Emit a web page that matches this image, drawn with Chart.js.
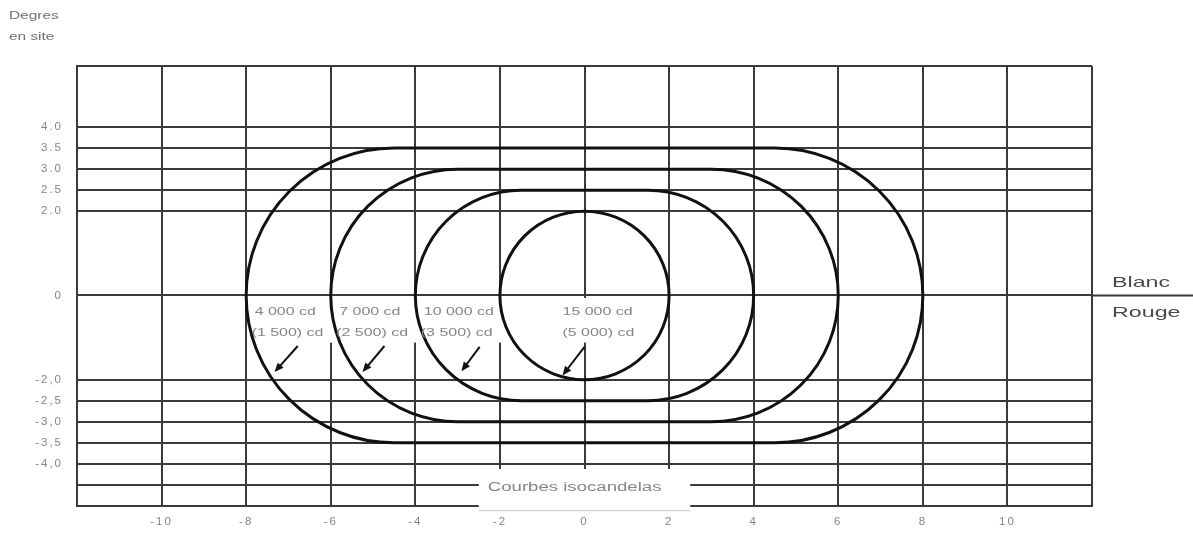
<!DOCTYPE html>
<html>
<head>
<meta charset="utf-8">
<script src="https://cdn.jsdelivr.net/npm/chart.js@4.4.0/dist/chart.umd.min.js"></script>
<style>
html,body{margin:0;padding:0;background:#fff;}
#wrap{width:1193px;height:539px;position:relative;}
</style>
</head>
<body>
<div id="wrap"><canvas id="c"></canvas></div>
<script>
// ---------- data ----------
const xTickValues = [-10, -8, -6, -4, -2, 0, 2, 4, 6, 8, 10];
const xTickLabels = ['-10', '-8', '-6', '-4', '-2', '0', '2', '4', '6', '8', '10'];
const yTickValues = [4, 3.5, 3, 2.5, 2, 0, -2, -2.5, -3, -3.5, -4];
const yTickLabels = ['4.0', '3.5', '3.0', '2.5', '2.0', '0', '-2,0', '-2,5', '-3,0', '-3,5', '-4,0'];
const yExtraGrid = [-4.5];
const yAxisTitle = ['Degres', 'en site'];
const sideLabels = ['Blanc', 'Rouge'];
const caption = 'Courbes isocandelas';

const curveWhite = ['4 000 cd', '7 000 cd', '10 000 cd', '15 000 cd'];
const curveRed = ['(1 500) cd', '(2 500) cd', '(3 500) cd', '(5 000) cd'];
const curveHalfWidth = [8, 6, 4, 2];
const curveHalfHeight = [3.5, 3, 2.5, 2];
const arrowTipX = [-7.33, -5.25, -2.91, -0.52];
const arrowTipY = [-1.82, -1.82, -1.8, -1.9];
const arrowTailX = [-6.78, -4.73, -2.48, 0];
const arrowTailY = [-1.2, -1.2, -1.22, -1.22];
const labelLeftX = [-7.8, -5.8, -3.8, -0.52];

// ---------- styling ----------
const GRID = '#3a3a3a';
const TXT = '#858585';

function sText(ctx, str, px, py, sx, align) {
  ctx.save();
  ctx.translate(px, py);
  ctx.scale(sx, 1);
  ctx.textAlign = align || 'left';
  ctx.textBaseline = 'middle';
  ctx.fillText(str, 0, 0);
  ctx.restore();
}

const overlay = {
  id: 'overlay',
  beforeDraw(chart) {
    chart.ctx.letterSpacing = '2px';
  },
  beforeDatasetsDraw(chart) {
    const ctx = chart.ctx;
    const a = chart.chartArea;
    const xs = chart.scales.x, ys = chart.scales.y;
    const X = v => xs.getPixelForValue(v);
    const Y = v => ys.getPixelForValue(v);
    ctx.save();
    ctx.letterSpacing = '0px';

    // y = 0 line extended to right edge
    ctx.strokeStyle = GRID; ctx.lineWidth = 2;
    ctx.beginPath(); ctx.moveTo(a.right, Y(0)); ctx.lineTo(chart.width, Y(0)); ctx.stroke();

    // white boxes behind curve labels
    ctx.fillStyle = '#fff';
    labelLeftX.forEach((lx, i) => {
      const x0 = X(lx - 0.1), x1 = X(lx + (i === 3 ? 1.7 : 2.0));
      ctx.fillRect(x0, Y(-0.06), x1 - x0, Y(-1.12) - Y(-0.06));
    });

    // caption box
    const bx0 = X(-2.5), bx1 = X(2.5), by0 = Y(-4.12), by1 = Y(-5.1);
    ctx.fillRect(bx0, by0, bx1 - bx0, by1 - by0);
    ctx.strokeStyle = '#c8c8c8'; ctx.lineWidth = 1;
    ctx.beginPath(); ctx.moveTo(bx0, by1 + 0.5); ctx.lineTo(bx1, by1 + 0.5); ctx.stroke();

    // isocandela curves (stadium shapes)
    ctx.strokeStyle = '#111'; ctx.lineWidth = 3;
    curveHalfWidth.forEach((hw, i) => {
      const r = curveHalfHeight[i];
      const c = hw - r;
      const rx = X(r) - X(0), ry = Y(0) - Y(r);
      ctx.beginPath();
      ctx.ellipse(X(c), Y(0), rx, ry, 0, -Math.PI / 2, Math.PI / 2);
      ctx.ellipse(X(-c), Y(0), rx, ry, 0, Math.PI / 2, Math.PI * 1.5);
      ctx.closePath();
      ctx.stroke();
    });

    // curve labels
    ctx.fillStyle = TXT;
    ctx.font = '11px "Liberation Sans", Arial, sans-serif';
    curveWhite.forEach((t, i) => {
      sText(ctx, t, X(labelLeftX[i]), Y(-0.4), 1.45, 'left');
      sText(ctx, curveRed[i], X(labelLeftX[i]) - (i === 3 ? 0 : 3), Y(-0.9), 1.45, 'left');
    });

    // arrows
    ctx.strokeStyle = '#111'; ctx.fillStyle = '#111'; ctx.lineWidth = 2;
    arrowTipX.forEach((tx, i) => {
      const x1 = X(tx), y1 = Y(arrowTipY[i]);
      const x0 = X(arrowTailX[i]), y0 = Y(arrowTailY[i]);
      const ang = Math.atan2(y1 - y0, x1 - x0);
      ctx.beginPath(); ctx.moveTo(x0, y0); ctx.lineTo(x1 - 5 * Math.cos(ang), y1 - 5 * Math.sin(ang)); ctx.stroke();
      ctx.beginPath();
      ctx.moveTo(x1, y1);
      ctx.lineTo(x1 - 10 * Math.cos(ang - 0.4), y1 - 10 * Math.sin(ang - 0.4));
      ctx.lineTo(x1 - 10 * Math.cos(ang + 0.4), y1 - 10 * Math.sin(ang + 0.4));
      ctx.closePath(); ctx.fill();
    });

    // caption text
    ctx.fillStyle = TXT;
    ctx.font = '12px "Liberation Sans", Arial, sans-serif';
    sText(ctx, caption, bx0 + 9, Y(-4.57), 1.55, 'left');

    // Blanc / Rouge
    ctx.fillStyle = '#4a4a4a';
    ctx.font = '15px "Liberation Sans", Arial, sans-serif';
    sText(ctx, sideLabels[0], a.right + 20, Y(0) - 13, 1.55, 'left');
    sText(ctx, sideLabels[1], a.right + 20, Y(0) + 17, 1.55, 'left');

    // axis title top-left
    ctx.fillStyle = '#707070';
    ctx.font = '11px "Liberation Sans", Arial, sans-serif';
    sText(ctx, yAxisTitle[0], 9, 16, 1.4, 'left');
    sText(ctx, yAxisTitle[1], 9, 37, 1.4, 'left');

    ctx.restore();
  }
};

new Chart(document.getElementById('c'), {
  type: 'scatter',
  data: { datasets: [] },
  options: {
    responsive: true,
    maintainAspectRatio: false,
    animation: false,
    devicePixelRatio: 1,
    layout: { padding: { top: 66, right: 101, left: 0, bottom: 0 } },
    plugins: { legend: { display: false }, tooltip: { enabled: false } },
    scales: {
      x: {
        type: 'linear', min: -12, max: 12,
        afterBuildTicks: s => { s.ticks = [s.min, ...xTickValues, s.max].map(v => ({ value: v })); },
        afterFit: s => { s.height = 33; },
        grid: { color: GRID, lineWidth: 2, drawTicks: false },
        border: { display: true, color: GRID, width: 2 },
        ticks: {
          padding: 9, color: TXT, maxRotation: 0, autoSkip: false,
          font: { family: '"Liberation Sans", Arial, sans-serif', size: 11.5 },
          callback: v => { const i = xTickValues.indexOf(v); return i < 0 ? '' : xTickLabels[i]; }
        }
      },
      y: {
        type: 'linear', min: -5, max: 5.45,
        afterBuildTicks: s => {
          const vals = [s.min, ...yExtraGrid, ...yTickValues, s.max].sort((p, q) => p - q);
          s.ticks = vals.map(v => ({ value: v }));
        },
        afterFit: s => { s.width = 77; },
        grid: { color: GRID, lineWidth: 2, drawTicks: false },
        border: { display: true, color: GRID, width: 2 },
        ticks: {
          padding: 14, color: TXT, autoSkip: false,
          font: { family: '"Liberation Sans", Arial, sans-serif', size: 11.5 },
          callback: v => { const i = yTickValues.indexOf(v); return i < 0 ? '' : yTickLabels[i]; }
        }
      }
    }
  },
  plugins: [overlay]
});
</script>
</body>
</html>
